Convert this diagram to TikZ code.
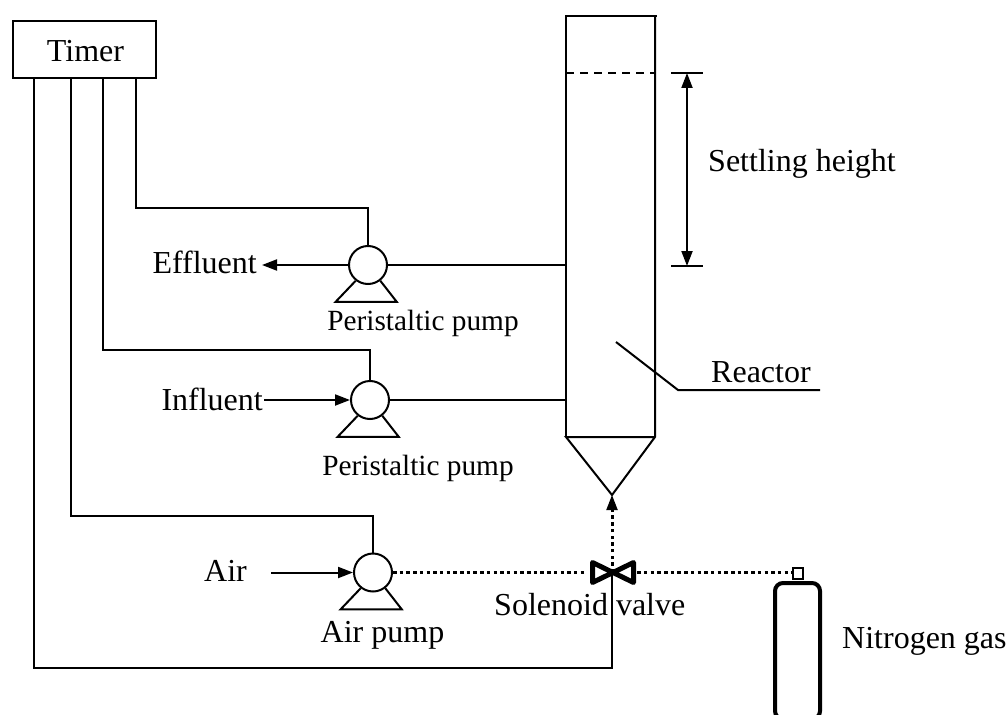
\documentclass[tikz,border=0pt]{standalone}
\usepackage{fontspec}
\setmainfont{Liberation Serif}
\usetikzlibrary{arrows.meta}
\tikzstyle{wire} = [line width=2pt]
\tikzstyle{arrow} = [line width=2pt,-{Triangle[length=15pt,width=11pt]}]
\tikzstyle{gas} = [line width=3pt,dash pattern=on 3.5pt off 3.2pt]
\tikzstyle{pump} = [circle, draw=black, line width=2pt, minimum size=38pt, inner sep=0pt]
\tikzstyle{label} = [inner sep=0pt, font=\fontsize{32}{34}\selectfont]
\tikzstyle{small} = [inner sep=0pt, font=\fontsize{29.3}{31}\selectfont]
\tikzset{valve/.style={minimum width=50pt, minimum height=26pt, inner sep=0pt}}
\newcommand{\pumpfeet}[1]{\draw [wire] (#1.-128) -- ++(-20,21) -- ++(61,0) -- (#1.-52);}

\begin{document}
\begin{tikzpicture}[x=1pt,y=-1pt]
\useasboundingbox (0,0) rectangle (1008,714);

\node (timer) [draw=black,line width=2pt,minimum width=143pt,minimum height=57pt,inner sep=0pt] at (84.5,49.5) {};
\node (timerl) [label,anchor=base] at (85.5,62) {Timer};
\coordinate (t1) at (34,78);
\coordinate (t2) at (71,78);
\coordinate (t3) at (103,78);
\coordinate (t4) at (136,78);

\node (p1) [pump] at (368,265) {};
\node (p2) [pump] at (370,400) {};
\node (p3) [pump] at (373,572.5) {};
\pumpfeet{p1}
\pumpfeet{p2}
\pumpfeet{p3}

%reactor
\coordinate (rtl) at (566,16);
\coordinate (rtr) at (655,16);
\coordinate (rbl) at (566,437);
\coordinate (rbr) at (655,437);
\coordinate (apex) at (612,495);
\coordinate (rd1) at (566,73);
\coordinate (rd2) at (655,73);
\draw [wire] (rbl) -- (rtl) -- ([xshift=2pt]rtr);
\draw [wire] (rtr) -- (rbr) -- (apex) -- (rbl) -- (rbr);
\draw [wire,dash pattern=on 8pt off 6pt] (rd1) -- (rd2);

%settling height
\coordinate (s1) at (671,73);
\coordinate (s2) at (703,73);
\coordinate (s3) at (671,266);
\coordinate (s4) at (703,266);
\coordinate (sa) at (687,73);
\coordinate (sb) at (687,266);
\draw [wire] (s1) -- (s2);
\draw [wire] (s3) -- (s4);
\draw [arrow,{Triangle[length=15pt,width=11pt]}-{Triangle[length=15pt,width=11pt]}] (sa) -- (sb);
\node (sl) [label,anchor=west] at (708,164) {Settling height};

%reactor label
\coordinate (ra) at (616,342);
\coordinate (rb) at (678,390);
\coordinate (rc) at (820,390);
\draw [wire] (ra) -- (rb) -- (rc);
\node (rl) [label,anchor=west] at (711,372) {Reactor};

%valve and cylinder
\node (v) [valve] at (612,572.5) {};
\draw [line width=5pt,line join=round] (592.5,562.5) -- (633.5,582.5) -- (633.5,562.5) -- (592.5,582.5) -- cycle;
\node (vl) [label,anchor=west] at (494,605) {Solenoid valve};
\node (cyl) [draw=black,line width=4pt,rounded corners=8pt,minimum width=45pt,minimum height=136pt,inner sep=0pt,anchor=north] at (797.5,581) {};
\node (cap) [draw=black,line width=2pt,minimum width=10pt,minimum height=11pt,inner sep=0pt,anchor=south] at (797.5,580) {};
\node (cl) [label,anchor=west] at (842,641) {Nitrogen gas};

%left side
\node (e) [label,anchor=east] at (257,262) {Effluent};
\node (i) [label,anchor=east] at (263,399) {Influent};
\node (a) [label,anchor=east] at (247,571) {Air};
\node (pl1) [small,anchor=base] at (423,330) {Peristaltic pump};
\node (pl2) [small,anchor=base] at (418,475) {Peristaltic pump};
\node (pl3) [label,anchor=base] at (382.5,642) {Air pump};
\coordinate (e1) at (262,265);
\coordinate (i1) at (264,400);
\coordinate (a1) at (271,572.5);

\draw [wire] (t4) |- (368,208) -- (p1.north);
\draw [wire] (t3) |- (370,350) -- (p2.north);
\draw [wire] (t2) |- (373,516) -- (p3.north);
\draw [wire] (t1) |- (612,668) -- (v.center);

\draw [arrow] (p1) -- (e1);
\draw [wire] (p1) -- (p1 -| rd1);
\draw [arrow] (i1) -- (p2);
\draw [wire] (p2) -- (p2 -| rd1);
\draw [arrow] (a1) -- (p3);

\draw [gas] (p3) -- (v.west);
\draw [gas] (v.east) -- (cap.west |- v.east);
\draw [gas] (v.center) -- ([yshift=-12pt]apex);
\draw [arrow] ([yshift=-14pt]apex) -- (apex);

\end{tikzpicture}
\end{document}
